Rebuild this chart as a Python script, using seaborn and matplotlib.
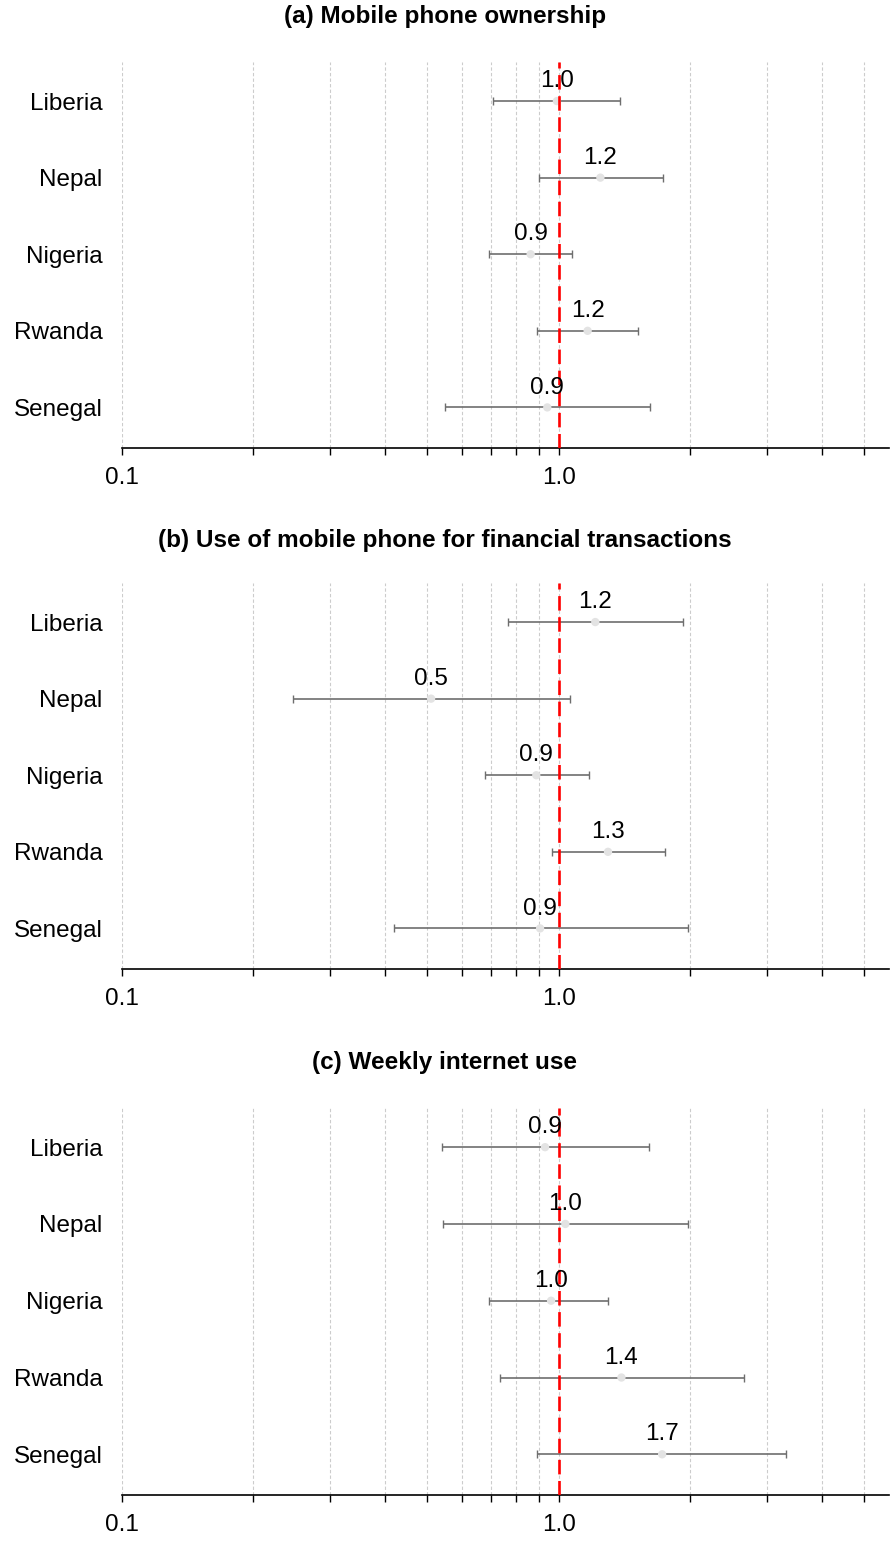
import numpy as np
import pandas as pd
import seaborn as sns
import matplotlib.pyplot as plt
from matplotlib.ticker import FuncFormatter, NullFormatter

# --- DATA ---
countries = ["Liberia", "Nepal", "Nigeria", "Rwanda", "Senegal"]
titles = [
    "(a) Mobile phone ownership",
    "(b) Use of mobile phone for financial transactions",
    "(c) Weekly internet use",
]

# odds ratios with lower / upper confidence bounds, one list per panel
or_a = [0.99, 1.245, 0.862, 1.164, 0.941]
lo_a = [0.705, 0.899, 0.693, 0.891, 0.549]
hi_a = [1.378, 1.736, 1.074, 1.519, 1.615]

or_b = [1.212, 0.51, 0.888, 1.296, 0.906]
lo_b = [0.766, 0.246, 0.679, 0.965, 0.419]
hi_b = [1.921, 1.059, 1.175, 1.748, 1.973]

or_c = [0.93, 1.035, 0.96, 1.391, 1.724]
lo_c = [0.539, 0.543, 0.693, 0.732, 0.893]
hi_c = [1.609, 1.973, 1.298, 2.652, 3.317]

panels = [(or_a, lo_a, hi_a), (or_b, lo_b, hi_b), (or_c, lo_c, hi_c)]

# --- STYLE ---
sns.set_style("white")
plt.rcParams["font.family"] = ["Liberation Sans", "DejaVu Sans"]
plt.rcParams["text.color"] = "black"
plt.rcParams["xtick.color"] = "black"
plt.rcParams["ytick.color"] = "black"

FS = 17.5
W, H = 890, 1552
fig = plt.figure(figsize=(W / 100, H / 100), dpi=100)

# axes top / bottom in pixels, title centre y in pixels
ax_boxes = [(62, 448, 17), (583, 969, 541), (1108, 1495, 1063)]
left_px, right_px = 122, 889

for (ors, lo, hi), title, (top, bot, ty) in zip(panels, titles, ax_boxes):
    ax = fig.add_axes([left_px / W, 1 - bot / H, (right_px - left_px) / W, (bot - top) / H])
    df = pd.DataFrame({"country": countries, "pos": np.arange(len(countries)),
                       "or": ors, "lo": lo, "hi": hi})

    ax.errorbar(df["or"], df["pos"],
                xerr=[df["or"] - df["lo"], df["hi"] - df["or"]],
                fmt="none", ecolor="#6e6e6e", elinewidth=1.2, capsize=2.6,
                capthick=1.0, zorder=3)
    sns.scatterplot(data=df, x="or", y="pos", color="#e3e3e3", s=36,
                    edgecolor="none", ax=ax, zorder=4)
    ax.axvline(1.0, color="red", ls=(0, (5.5, 2.5)), lw=1.9, zorder=5)

    for _, r in df.iterrows():
        ax.annotate(f"{r['or']:.1f}", (r["or"], r["pos"]), xytext=(0, 10),
                    textcoords="offset points", ha="center", va="baseline",
                    fontsize=FS, color="black", zorder=6)

    ax.set_xscale("log")
    ax.set_xlim(0.1, 5.7)
    ax.set_ylim(4.53, -0.51)
    ax.set_yticks(df["pos"])
    ax.set_yticklabels(countries)
    ax.set_xlabel("")
    ax.set_ylabel("")

    ax.xaxis.set_major_formatter(FuncFormatter(lambda v, _: f"{v:.1f}"))
    ax.xaxis.set_minor_formatter(NullFormatter())
    ax.grid(axis="x", which="both", color="#cccccc", ls=(0, (3, 2)), lw=0.8)
    ax.grid(axis="y", visible=False)

    for s in ["top", "right", "left"]:
        ax.spines[s].set_visible(False)
    ax.spines["bottom"].set_color("black")
    ax.spines["bottom"].set_linewidth(1.2)

    ax.tick_params(axis="x", which="both", direction="out", length=5,
                   width=1, color="black", labelsize=FS, pad=9, bottom=True)
    ax.tick_params(axis="y", length=0, labelsize=FS, pad=14)

    fig.text(0.5, 1 - ty / H, title, ha="center", va="center",
             fontsize=FS, fontweight="bold")

fig.savefig("out.png", dpi=100)
